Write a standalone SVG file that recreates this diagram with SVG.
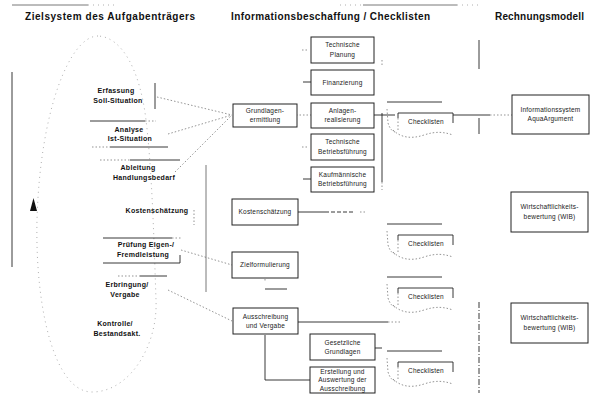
<svg xmlns="http://www.w3.org/2000/svg" width="590" height="399" viewBox="0 0 590 399">
<defs>
<style>
.bg{fill:#fff}
.h{font-family:"Liberation Sans",Arial,sans-serif;font-weight:bold;font-size:10px;fill:#111}
.lb{font-family:"Liberation Sans",Arial,sans-serif;font-weight:bold;font-size:7px;letter-spacing:0.3px;fill:#111;text-anchor:middle}
.bt{font-family:"Liberation Sans",Arial,sans-serif;font-size:6.5px;letter-spacing:0.2px;fill:#222;text-anchor:middle}
.box{fill:#fff;stroke:#222;stroke-width:1}
.ln{fill:none;stroke:#222;stroke-width:0.9}
.lg{fill:none;stroke:#555;stroke-width:0.8}
.dt{fill:none;stroke:#666;stroke-width:0.7;stroke-dasharray:1.5 2}
.dl{fill:none;stroke:#999;stroke-width:0.8;stroke-dasharray:1 4}
</style>
<g id="checkShape">
<line class="ln" x1="-11" y1="-11" x2="44" y2="-11"/>
<path class="dt" d="M -11 -4 L -10 10 C -8 16 -6 18 -3 19"/>
<line class="ln" x1="0" y1="0" x2="55" y2="0" stroke-width="1.2"/>
<line class="ln" x1="0" y1="0" x2="0" y2="5"/>
<line class="dt" x1="0" y1="5" x2="0" y2="18"/>
<line class="ln" x1="55" y1="0" x2="55" y2="10"/>
<path class="dt" d="M -5 17 C 3 25 14 26 26 22 C 38 18 46 19 55 22"/>
<text class="bt" x="28" y="11">Checklisten</text>
</g>
</defs>
<rect class="bg" width="590" height="399"/>

<!-- headings -->
<g id="headings">
<text class="h" x="25" y="20" textLength="170" lengthAdjust="spacing">Zielsystem des Aufgabenträgers</text>
<text class="h" x="231" y="20" textLength="199" lengthAdjust="spacing">Informationsbeschaffung / Checklisten</text>
<text class="h" x="495" y="20" textLength="89" lengthAdjust="spacing">Rechnungsmodell</text>
</g>

<!-- decorative / frame lines -->
<g id="frame">
<line class="lg" x1="12" y1="5" x2="88" y2="5"/>
<line class="dl" x1="88" y1="5" x2="118" y2="5"/>
<line class="lg" x1="363" y1="5" x2="457" y2="5"/>
<line class="dl" x1="340" y1="5" x2="363" y2="5"/>
<line class="dl" x1="457" y1="5" x2="480" y2="5"/>
<line class="ln" x1="12" y1="72" x2="12" y2="267"/>
<line class="lg" x1="206" y1="165" x2="206" y2="292"/>
<line class="ln" x1="479" y1="40" x2="479" y2="69"/>
<line class="ln" x1="479" y1="118" x2="479" y2="134"/>
<line class="ln" x1="479" y1="302" x2="479" y2="393" stroke-dasharray="6 2 1 2"/>
<polygon points="30,211 33.5,198 37,211" fill="#111"/>
<path class="dl" d="M 98 36 C 70 36 40 110 37 220 C 35 310 55 392 92 392 C 130 392 158 345 156 300 C 154 240 152 170 146 120 C 140 70 122 37 98 36 Z"/>
</g>

<!-- left-hand labels -->
<g id="erfassung">
<text class="lb" x="116" y="93">Erfassung</text>
<text class="lb" x="118" y="103">Soll-Situation</text>
<line class="ln" x1="155" y1="83" x2="155" y2="109"/>
<line class="ln" x1="90" y1="121" x2="145" y2="121"/>
<line class="dt" x1="145" y1="121" x2="156" y2="121"/>
</g>
<g id="analyse">
<text class="lb" x="129" y="132">Analyse</text>
<text class="lb" x="130" y="141">Ist-Situation</text>
<line class="dt" x1="92" y1="147" x2="110" y2="147"/>
<line class="ln" x1="110" y1="147" x2="168" y2="147"/>
<line class="dt" x1="100" y1="160" x2="130" y2="160"/>
<line class="ln" x1="130" y1="160" x2="180" y2="160"/>
</g>
<g id="ableitung">
<text class="lb" x="138" y="170">Ableitung</text>
<text class="lb" x="144" y="180">Handlungsbedarf</text>
</g>
<g id="kostenschaetzung-l">
<text class="lb" x="157" y="213">Kostenschätzung</text>
<line class="dt" x1="194" y1="210" x2="194" y2="225"/>
</g>
<g id="pruefung">
<line class="ln" x1="103" y1="238" x2="172" y2="238"/>
<line class="dt" x1="172" y1="238" x2="181" y2="238"/>
<text class="lb" x="146" y="247">Prüfung Eigen-/</text>
<text class="lb" x="143" y="257">Fremdleistung</text>
<line class="ln" x1="103" y1="263" x2="180" y2="263"/>
<line class="ln" x1="180" y1="255" x2="180" y2="263"/>
</g>
<g id="erbringung">
<line class="dt" x1="118" y1="276" x2="140" y2="276"/>
<line class="ln" x1="140" y1="276" x2="167" y2="276"/>
<text class="lb" x="127" y="287">Erbringung/</text>
<text class="lb" x="125" y="297">Vergabe</text>
</g>
<g id="kontrolle">
<text class="lb" x="115" y="326">Kontrolle/</text>
<text class="lb" x="117" y="336">Bestandsakt.</text>
</g>

<!-- connectors -->
<g id="connectors">
<line class="dt" x1="157" y1="97" x2="232" y2="115"/>
<line class="dt" x1="168" y1="134" x2="232" y2="115"/>
<line class="dt" x1="175" y1="172" x2="232" y2="115"/>
<line class="dt" x1="181" y1="250" x2="232" y2="265"/>
<line class="dt" x1="168" y1="290" x2="232" y2="321"/>
<line class="dt" x1="296" y1="115" x2="311" y2="115"/>
<line class="dt" x1="302" y1="50" x2="308" y2="50"/>
<line class="ln" x1="303" y1="82" x2="311" y2="82"/>
<line class="dt" x1="302" y1="147" x2="308" y2="147"/>
<line class="ln" x1="303" y1="179" x2="311" y2="179"/>
<line class="ln" x1="374" y1="115" x2="395" y2="115"/>
<line class="ln" x1="382" y1="113" x2="382" y2="182"/>
<line class="dt" x1="382" y1="60" x2="382" y2="66"/>
<line class="dt" x1="382" y1="182" x2="382" y2="190"/>
<line class="ln" x1="453" y1="115" x2="490" y2="115"/>
<line class="dt" x1="490" y1="115" x2="512" y2="115"/>
<line class="ln" x1="298" y1="212" x2="325" y2="212"/>
<line class="ln" x1="325" y1="212" x2="355" y2="212" stroke-dasharray="4 2"/>
<line class="dt" x1="360" y1="212" x2="366" y2="212"/>
<line class="dt" x1="265" y1="279" x2="265" y2="282"/>
<line class="ln" x1="265" y1="289" x2="287" y2="289"/>
<line class="ln" x1="298" y1="322" x2="388" y2="322"/>
<line class="dt" x1="388" y1="322" x2="402" y2="322"/>
<polyline class="ln" points="265,335 265,380 311,380"/>
<line class="ln" x1="375" y1="348" x2="382" y2="348"/>
</g>

<!-- middle column boxes -->
<g id="grundlagenermittlung">
<rect class="box" x="233" y="104" width="64" height="23"/>
<text class="bt" x="265" y="113">Grundlagen-</text>
<text class="bt" x="265" y="121.5">ermittlung</text>
</g>
<g id="technische-planung">
<rect class="box" x="311" y="37" width="63" height="26"/>
<text class="bt" x="342.5" y="47">Technische</text>
<text class="bt" x="342.5" y="57">Planung</text>
</g>
<g id="finanzierung">
<rect class="box" x="311" y="70" width="63" height="25"/>
<text class="bt" x="342.5" y="85">Finanzierung</text>
</g>
<g id="anlagenrealisierung">
<rect class="box" x="311" y="103" width="63" height="25"/>
<text class="bt" x="342.5" y="112.5">Anlagen-</text>
<text class="bt" x="342.5" y="121.5">realisierung</text>
</g>
<g id="technische-betriebsfuehrung">
<rect class="box" x="311" y="134" width="63" height="26"/>
<text class="bt" x="342.5" y="144">Technische</text>
<text class="bt" x="342.5" y="153.5">Betriebsführung</text>
</g>
<g id="kaufmaennische-betriebsfuehrung">
<rect class="box" x="311" y="167" width="63" height="25"/>
<text class="bt" x="342.5" y="176.5">Kaufmännische</text>
<text class="bt" x="342.5" y="186">Betriebsführung</text>
</g>
<g id="kostenschaetzung">
<rect class="box" x="232" y="199" width="66" height="26"/>
<text class="bt" x="265" y="214">Kostenschätzung</text>
</g>
<g id="zielformulierung">
<rect class="box" x="232" y="252" width="66" height="26"/>
<text class="bt" x="265" y="267">Zielformulierung</text>
</g>
<g id="ausschreibung-vergabe">
<rect class="box" x="233" y="308" width="65" height="26"/>
<text class="bt" x="265.5" y="318.5">Ausschreibung</text>
<text class="bt" x="265.5" y="328">und Vergabe</text>
</g>
<g id="gesetzliche-grundlagen">
<rect class="box" x="310" y="334" width="65" height="26"/>
<text class="bt" x="342.5" y="344.5">Gesetzliche</text>
<text class="bt" x="342.5" y="354">Grundlagen</text>
</g>
<g id="erstellung-auswertung">
<rect class="box" x="310" y="367" width="65" height="26"/>
<text class="bt" x="342.5" y="373.5">Erstellung und</text>
<text class="bt" x="342.5" y="382">Auswertung der</text>
<text class="bt" x="342.5" y="390.5">Ausschreibung</text>
</g>

<!-- checklists -->
<g id="checklisten-1"><use href="#checkShape" x="398" y="113"/></g>
<g id="checklisten-2"><use href="#checkShape" x="398" y="235"/></g>
<g id="checklisten-3"><use href="#checkShape" x="398" y="288"/></g>
<g id="checklisten-4"><use href="#checkShape" x="398" y="362"/></g>

<!-- right column -->
<g id="informationssystem">
<rect class="box" x="512" y="95" width="77" height="39"/>
<text class="bt" x="550.5" y="112">Informationssystem</text>
<text class="bt" x="550.5" y="121">AquaArgument</text>
</g>
<g id="wib-1">
<rect class="box" x="511" y="192" width="77" height="40"/>
<text class="bt" x="549.5" y="209">Wirtschaftlichkeits-</text>
<text class="bt" x="549.5" y="219">bewertung (WIB)</text>
</g>
<g id="wib-2">
<rect class="box" x="511" y="303" width="77" height="40"/>
<text class="bt" x="549.5" y="320">Wirtschaftlichkeits-</text>
<text class="bt" x="549.5" y="330">bewertung (WIB)</text>
</g>
</svg>
